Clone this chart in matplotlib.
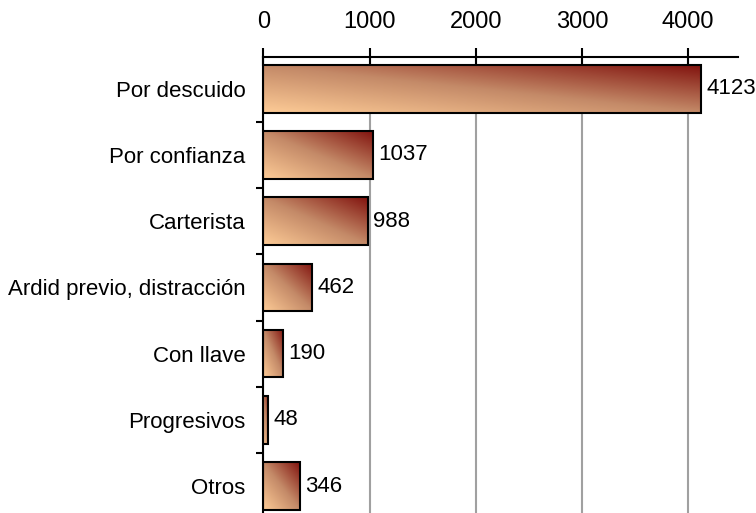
import matplotlib
matplotlib.use('Agg')
import matplotlib.pyplot as plt
import numpy as np
from matplotlib.colors import LinearSegmentedColormap

plt.rcParams['font.family'] = ['Liberation Sans', 'DejaVu Sans']

categorias = ['Por descuido', 'Por confianza', 'Carterista',
              'Ardid previo, distracción', 'Con llave', 'Progresivos', 'Otros']
valores = [4123, 1037, 988, 462, 190, 48, 346]
ticks_x = [0, 1000, 2000, 3000, 4000]

# peach -> dark red, diagonal fill inside each bar
cmap = LinearSegmentedColormap.from_list(
    'melocoton', [(0, '#FDCB96'), (0.5, '#C48A68'), (1, '#82140F')])

fig = plt.figure(figsize=(7.56, 5.13), dpi=100)
ax = fig.add_axes([0.3483, -0.012, 0.628, 0.9009])

alto = 0.72
nx, ny = 200, 40
u = np.linspace(0, 1, nx)
v = np.linspace(0, 1, ny)
U, V = np.meshgrid(u, v)
Z = (U + V) / 2

for i, val in enumerate(valores):
    ax.imshow(Z, cmap=cmap, vmin=0, vmax=1, origin='lower', aspect='auto',
              extent=(0, val, i + alto / 2, i - alto / 2), zorder=2,
              interpolation='bilinear')
    ax.barh(i, val, height=alto, facecolor='none', edgecolor='black',
            linewidth=1.5, zorder=3)
    ax.text(val + 45, i, str(val), va='center', ha='left', fontsize=16, zorder=4)

ax.set_xlim(0, 4470)
ax.set_ylim(6.5, -0.48)

ax.xaxis.tick_top()
ax.set_xticks(ticks_x)
ax.tick_params(axis='x', direction='inout', length=13, width=1.5,
               labelsize=17, pad=11)
ax.set_yticks(range(len(categorias)))
ax.set_yticklabels(categorias)
ax.set_yticks(np.arange(0.5, len(categorias) - 1, 1), minor=True)
ax.tick_params(axis='y', which='major', length=0, labelsize=16, pad=13)
ax.tick_params(axis='y', which='minor', direction='out', length=5, width=1.5)

ax.grid(axis='x', color='#A0A0A0', linewidth=1.5, zorder=0)
ax.set_axisbelow(True)

for lado in ['right', 'bottom']:
    ax.spines[lado].set_visible(False)
for lado in ['top', 'left']:
    ax.spines[lado].set_linewidth(1.5)

fig.savefig('out.png', dpi=100)
